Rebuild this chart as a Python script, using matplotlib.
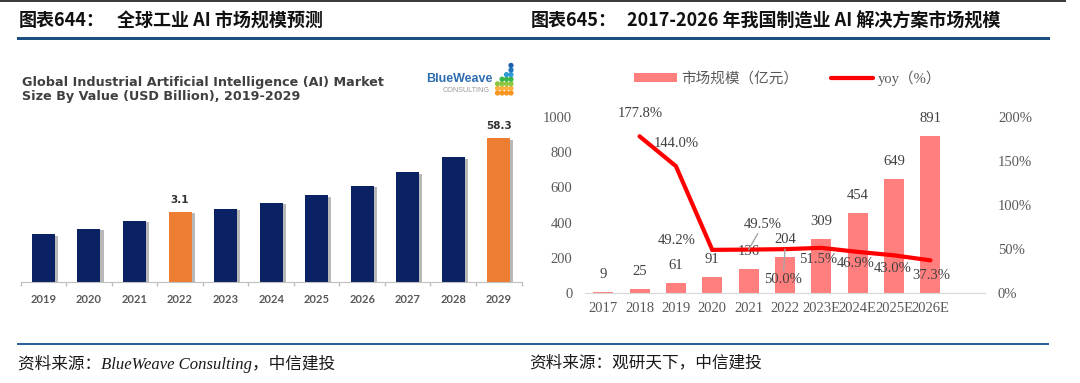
import matplotlib
matplotlib.use('Agg')
import matplotlib.pyplot as plt
from matplotlib.lines import Line2D
from matplotlib.patches import Patch, Ellipse
from matplotlib.font_manager import FontProperties
import matplotlib.patheffects as pe
import numpy as np

# ---------------- data ----------------
# Left chart (BlueWeave): relative bar heights (2029 = 100)
left_years = ['2019', '2020', '2021', '2022', '2023', '2024', '2025', '2026', '2027', '2028', '2029']
left_bar_index = [33.3, 37.2, 42.6, 49.0, 51.1, 55.3, 60.4, 67.1, 76.4, 86.8, 100.0]
left_value_labels = {'2022': '3.1', '2029': '58.3'}   # USD billion, as printed

# Right chart
right_years = ['2017', '2018', '2019', '2020', '2021', '2022', '2023E', '2024E', '2025E', '2026E']
market_size = [9, 25, 61, 91, 136, 204, 309, 454, 649, 891]          # 亿元
yoy_years = ['2018', '2019', '2020', '2021', '2022', '2023E', '2024E', '2025E', '2026E']
yoy_pct = [177.8, 144.0, 49.2, 49.5, 50.0, 51.5, 46.9, 43.0, 37.3]   # %

left_ticks = left_years
right_ticks_left = [0, 200, 400, 600, 800, 1000]
right_ticks_right = [0, 50, 100, 150, 200]

# ---------------- layout helpers ----------------
W, H = 1080, 383
fig = plt.figure(figsize=(W / 100, H / 100), dpi=100)
fig.patch.set_facecolor('white')


def fx(x):
    return x / W


def fy(y):
    return 1 - y / H


def px2pt(v):
    return v * 0.72


CJK = 'Noto Sans CJK SC'
SERIF = ['Liberation Serif', CJK]

# ---------------- frame: lines, titles, sources ----------------
fig.add_artist(Line2D([0, fx(1065)], [fy(0.8), fy(0.8)], transform=fig.transFigure,
                      color='#3C3C3C', lw=px2pt(2)))
fig.add_artist(Line2D([fx(18), fx(1048)], [fy(38.3), fy(38.3)], transform=fig.transFigure,
                      color='#1B4F80', lw=px2pt(3)))
fig.add_artist(Line2D([fx(18), fx(1048)], [fy(344.3), fy(344.3)], transform=fig.transFigure,
                      color='#2A6099', lw=px2pt(2)))

title_kw = dict(family=[CJK], fontsize=13, va='center', ha='left', color='#111111', weight='bold')
fig.text(fx(19), fy(20.7), '图表644：', **title_kw)
fig.text(fx(117), fy(20.7), '全球工业 AI 市场规模预测', **title_kw)
fig.text(fx(530.7), fy(20.7), '图表645：', **title_kw)
fig.text(fx(627), fy(20.7), '2017-2026 年我国制造业 AI 解决方案市场规模', **title_kw)

src_kw = dict(family=SERIF, style='italic', fontsize=12, va='center', ha='left', color='#1A1A1A')
fig.text(fx(18.3), fy(364), '资料来源：BlueWeave Consulting，中信建投', **src_kw)
fig.text(fx(529), fy(363.3), '资料来源：观研天下，中信建投', **src_kw)

# ---------------- left chart ----------------
fig.text(fx(22.4), fy(82.7), 'Global Industrial Artificial Intelligence (AI) Market',
         family='DejaVu Sans', weight='bold', fontsize=9.2, color='#404040', va='center')
fig.text(fx(22.4), fy(96.7), 'Size By Value (USD Billion), 2019-2029',
         family='DejaVu Sans', weight='bold', fontsize=9.2, color='#404040', va='center')

# logo
fig.text(fx(426), fy(79), 'BlueWeave', family='Liberation Sans', weight='bold',
         fontsize=9, color='#2F6DB0', va='center')
fig.text(fx(443), fy(90.5), 'CONSULTING', family='Liberation Sans', fontsize=5.2,
         color='#9A9A9A', va='center')
row_colors = ['#F7941D', '#FBB040', '#8DC63F', '#39B54A', '#2E9BD6', '#1C75BC', '#1C5FA8']
for cx, n in [(497.5, 3), (502, 4), (506.5, 5), (511, 7)]:
    for r in range(n):
        fig.add_artist(Ellipse((fx(cx), fy(93 - r * 4.6)), 3.8 / W, 3.8 / H,
                               transform=fig.transFigure, color=row_colors[r]))

axL = fig.add_axes([fx(20.7), fy(282.3), (521.5 - 20.7) / W, 144 / H])
xl = np.arange(len(left_years))
left_colors = ['#ED7D31' if y in left_value_labels else '#0A2163' for y in left_years]
barsL = axL.bar(xl, left_bar_index, width=0.505, color=left_colors, zorder=2)
for b in barsL:
    b.set_path_effects([pe.SimplePatchShadow(offset=(2.2, -1), shadow_rgbFace='#7F7F7F', alpha=0.55),
                        pe.Normal()])
for i, y in enumerate(left_years):
    if y in left_value_labels:
        axL.annotate(left_value_labels[y], (i, left_bar_index[i]), xytext=(0, px2pt(12)),
                     textcoords='offset points', ha='center', va='center',
                     fontsize=7.5, weight='bold', color='#333333', family='DejaVu Sans')
axL.set_xlim(-0.5, 10.5)
axL.set_ylim(0, 100)
axL.set_xticks(xl, left_ticks)
axL.set_xticks(np.arange(-0.5, 11, 1), minor=True)
axL.tick_params(axis='x', which='major', length=0, pad=px2pt(12), labelsize=8, labelcolor='#595959')
axL.tick_params(axis='x', which='minor', length=3, color='#BFBFBF', width=1)
for lab in axL.get_xticklabels():
    lab.set_family('Lato')
    lab.set_weight('bold')
axL.set_yticks([])
for s in ['top', 'right', 'left']:
    axL.spines[s].set_visible(False)
axL.spines['bottom'].set_color('#BFBFBF')
axL.patch.set_alpha(0)

# ---------------- right chart ----------------
axR = fig.add_axes([fx(585), fy(293.3), 400 / W, (293.3 - 116.7) / H])
xr = np.arange(len(right_years))
bar_color = '#FF7F7F'
axR.bar(xr, market_size, width=0.55, color=bar_color, zorder=2)
label_color = '#404040'
for i, v in enumerate(market_size):
    axR.annotate(str(v), (i, v), xytext=(0, px2pt(17.5)), textcoords='offset points',
                 ha='center', va='center', fontsize=10.5, family=SERIF, color=label_color, zorder=3)
axR.set_xlim(-0.5, 10.5)
axR.set_ylim(0, 1000)
axR.set_yticks(right_ticks_left, [str(t) for t in right_ticks_left])
axR.set_xticks(xr, right_years)
axR.tick_params(axis='both', length=0, labelsize=10.5, labelcolor='#595959')
axR.tick_params(axis='y', pad=px2pt(12.7))
axR.tick_params(axis='x', pad=px2pt(9))
for lab in axR.get_xticklabels() + axR.get_yticklabels():
    lab.set_family(SERIF)
for s in ['top', 'right', 'left']:
    axR.spines[s].set_visible(False)
axR.spines['bottom'].set_color('#D9D9D9')
axR.patch.set_alpha(0)

axY = axR.twinx()
yx = [right_years.index(y) for y in yoy_years]
axY.plot(yx, np.array(yoy_pct) / 100, color='#FF0000', lw=px2pt(4.2), solid_capstyle='round',
         solid_joinstyle='miter', zorder=4)
axY.set_ylim(0, 2.0)
axY.set_yticks([t / 100 for t in right_ticks_right], [f'{t}%' for t in right_ticks_right])
axY.tick_params(axis='y', length=0, labelsize=10.5, labelcolor='#595959', pad=px2pt(13))
for lab in axY.get_yticklabels():
    lab.set_family(SERIF)
for s in ['top', 'right', 'left', 'bottom']:
    axY.spines[s].set_visible(False)

# yoy label placement (pixel offsets dx, dy-down) as in the source
yoy_offsets = [(0.5, -23), (0.4, -22.7), (-35.5, -9), (14.4, -25.3), (-2, 30.8),
               (-3, 11.5), (-2.5, 11.4), (-1.6, 13), (1, 15.6)]
leader = {'2021', '2022'}
for xi, v, y, (dx, dy) in zip(yx, yoy_pct, yoy_years, yoy_offsets):
    kw = {}
    if y in leader:
        kw['arrowprops'] = dict(arrowstyle='-', color='#A6A6A6', lw=1, shrinkA=0, shrinkB=0)
    axY.annotate(f'{v:.1f}%', (xi, v / 100), xytext=(px2pt(dx), -px2pt(dy)),
                 textcoords='offset points', ha='center', va='center', fontsize=10.5,
                 family=SERIF, color=label_color, zorder=5, **kw)

# legend
leg_font = FontProperties(family=SERIF, size=10.5)
fig.legend(handles=[Patch(facecolor=bar_color, edgecolor='none', label='市场规模（亿元）'),
                    Line2D([], [], color='#FF0000', lw=px2pt(4.2), solid_capstyle='round',
                           label='yoy（%）')],
           loc='center', bbox_to_anchor=(fx(788), fy(78)), ncol=2, frameon=False, prop=leg_font,
           handlelength=2.9, handleheight=0.55, handletextpad=0.35, columnspacing=2.2,
           labelcolor='#595959', borderaxespad=0, borderpad=0)

fig.savefig('out.png', dpi=100, facecolor='white')
